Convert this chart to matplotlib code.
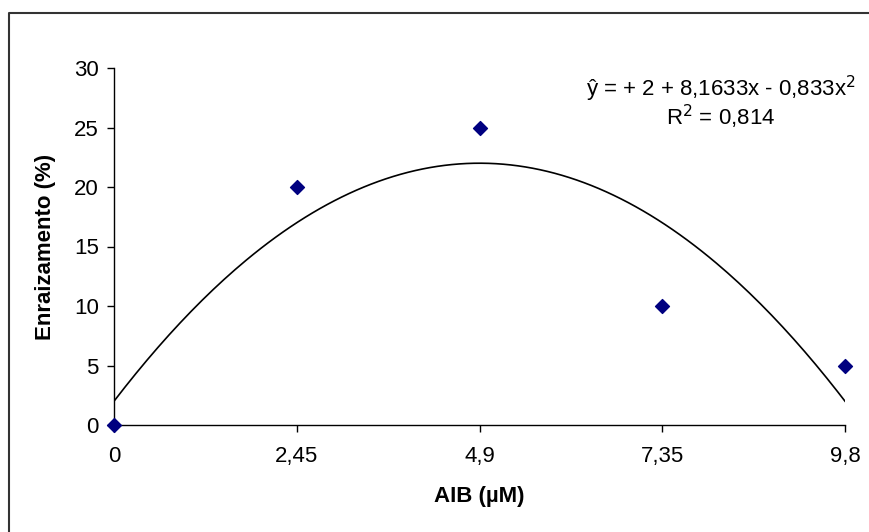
import numpy as np
import matplotlib.pyplot as plt
from matplotlib.lines import Line2D

plt.rcParams['font.family'] = ['Liberation Sans', 'DejaVu Sans']

# data
doses = [0, 2.45, 4.9, 7.35, 9.8]
rooting = [0, 20, 25, 10, 5]
x_ticklabels = ['0', '2,45', '4,9', '7,35', '9,8']
y_ticks = [0, 5, 10, 15, 20, 25, 30]

# fitted trend (coefficients given in the chart)
b0, b1, b2 = 2.0, 8.1633, -0.833

W, H = 869, 532
fig = plt.figure(figsize=(W / 100, H / 100), dpi=100)

# outer chart frame (right and bottom edges fall outside the image)
fig.add_artist(Line2D([9 / W, 9 / W, 1.0], [0.0, 1 - 13 / H, 1 - 13 / H],
                      transform=fig.transFigure, color='#333333', lw=1.5))

ax = fig.add_axes([114 / W, 1 - 425 / H, (845 - 114) / W, (425 - 68) / H])

xs = np.linspace(0, 9.8, 200)
ax.plot(xs, b0 + b1 * xs + b2 * xs ** 2, color='black', lw=1.2, zorder=2)
ax.scatter(doses, rooting, marker='D', s=50, color='#000080', zorder=3,
           clip_on=False)

ax.set_xlim(0, 9.8)
ax.set_ylim(0, 30)
ax.set_xticks(doses)
ax.set_xticklabels(x_ticklabels)
ax.set_yticks(y_ticks)
for s in ['top', 'right']:
    ax.spines[s].set_visible(False)
for s in ['left', 'bottom']:
    ax.spines[s].set_linewidth(1.0)
ax.tick_params(direction='out', length=5, width=1.0, labelsize=16)
ax.tick_params(axis='x', pad=10)
ax.tick_params(axis='y', pad=6)

ax.set_xlabel('AIB (µM)', fontsize=16, fontweight='bold', labelpad=14)
ax.set_ylabel('Enraizamento (%)', fontsize=16, fontweight='bold', labelpad=13)

ax.text(721 / W, 1 - 89 / H, 'ŷ = + 2 + 8,1633x - 0,833x$^2$',
        transform=fig.transFigure, ha='center', va='center', fontsize=16)
ax.text(721 / W, 1 - 117 / H, 'R$^2$ = 0,814',
        transform=fig.transFigure, ha='center', va='center', fontsize=16)

fig.savefig('out.png', dpi=100)
